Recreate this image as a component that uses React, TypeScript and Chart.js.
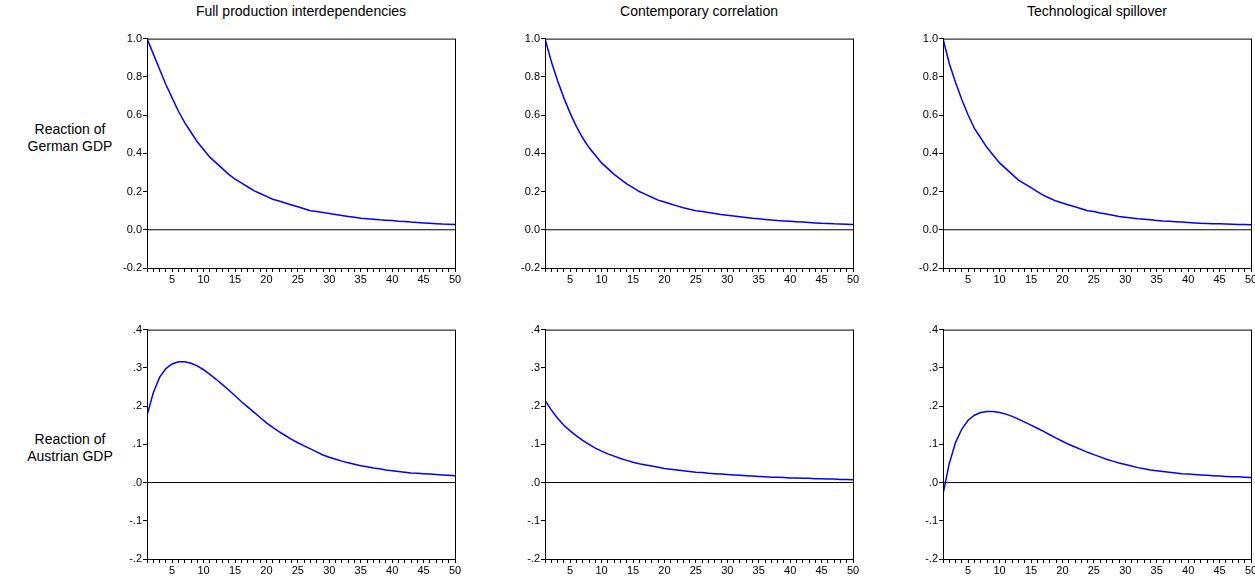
import React, { useEffect, useRef } from 'react'
import { Chart, registerables } from 'chart.js'

Chart.register(...registerables)

const periods = Array.from({ length: 50 }, (_, i) => i + 1)

const titles = ['Full production interdependencies', 'Contemporary correlation', 'Technological spillover']

const germanFull = [1.00, .92, .84, .76, .69, .62, .56, .51, .46, .42, .38, .35, .32, .29, .265, .245, .225, .205, .19, .175, .16, .15, .14, .13, .12, .11, .10, .095, .09, .085, .08, .075, .07, .065, .06, .058, .055, .052, .05, .048, .045, .043, .04, .038, .036, .034, .032, .03, .029, .028]
const germanCorr = [1.0, .88, .78, .69, .61, .54, .48, .43, .39, .35, .32, .29, .265, .24, .22, .2, .185, .17, .155, .145, .135, .125, .115, .107, .1, .095, .09, .085, .08, .076, .072, .068, .064, .06, .057, .054, .051, .048, .046, .044, .042, .04, .038, .036, .034, .033, .031, .03, .029, .028]
const germanTech = [1.0, .87, .77, .68, .60, .53, .48, .43, .39, .35, .32, .29, .26, .24, .22, .2, .18, .165, .15, .14, .13, .12, .11, .1, .095, .088, .082, .076, .07, .066, .062, .058, .055, .052, .049, .046, .044, .042, .04, .038, .036, .034, .033, .032, .031, .03, .029, .028, .027, .026]

const austrianFull = [.175, .235, .275, .298, .31, .316, .316, .312, .305, .295, .283, .27, .256, .242, .227, .212, .198, .184, .17, .156, .144, .133, .123, .113, .104, .096, .088, .08, .072, .066, .061, .056, .052, .048, .044, .041, .038, .036, .033, .031, .029, .027, .025, .024, .023, .022, .021, .02, .019, .018]
const austrianCorr = [.215, .19, .168, .15, .135, .122, .11, .1, .09, .082, .075, .069, .063, .058, .053, .049, .046, .043, .04, .037, .035, .033, .031, .029, .027, .026, .024, .023, .022, .021, .02, .019, .018, .017, .016, .015, .014, .014, .013, .012, .012, .011, .011, .01, .01, .009, .009, .008, .008, .007]
const austrianTech = [-.03, .05, .105, .14, .163, .176, .183, .186, .186, .183, .179, .173, .166, .158, .15, .142, .134, .125, .116, .108, .1, .093, .086, .079, .073, .067, .061, .056, .051, .047, .043, .039, .036, .033, .031, .029, .027, .025, .023, .022, .021, .02, .019, .018, .017, .016, .015, .015, .014, .013]

const topTicks = ['-0.2', '0.0', '0.2', '0.4', '0.6', '0.8', '1.0']
const bottomTicks = ['-.2', '-.1', '.0', '.1', '.2', '.3', '.4']

const FONT = 'Liberation Sans, Arial, sans-serif'

const boxPlugin = {
  id: 'box',
  afterDraw(chart: any) {
    const { ctx, chartArea: a } = chart
    ctx.save()
    ctx.strokeStyle = '#000'
    ctx.lineWidth = 1
    ctx.strokeRect(a.left + 0.5, a.top + 0.5, a.right - a.left, a.bottom - a.top)
    ctx.restore()
  },
}

interface PanelProps {
  values: number[]
  min: number
  max: number
  step: number
  labels: string[]
  left: number
  top: number
}

const Panel = ({ values, min, max, step, labels, left, top }: PanelProps) => {
  const ref = useRef<HTMLCanvasElement>(null)
  useEffect(() => {
    const ctx = ref.current?.getContext('2d')
    if (!ctx) return
    const chart = new Chart(ctx, {
      type: 'line',
      data: {
        labels: periods,
        datasets: [
          { data: periods.map((p, i) => ({ x: p, y: values[i] })), borderColor: '#0000ff', borderWidth: 1.5, pointRadius: 0, tension: 0 },
          { data: [{ x: 1, y: 0 }, { x: 50, y: 0 }], borderColor: '#000', borderWidth: 1, pointRadius: 0 },
        ],
      },
      options: {
        animation: false,
        responsive: false,
        layout: { padding: { top: 5, right: 8 } },
        plugins: { legend: { display: false }, tooltip: { enabled: false } },
        scales: {
          x: {
            type: 'linear', min: 1, max: 50,
            afterFit: (axis: any) => { axis.height = 25 },
            grid: { drawOnChartArea: false, tickLength: 4, color: '#000' },
            border: { color: '#000' },
            ticks: {
              stepSize: 1, autoSkip: false, maxRotation: 0, color: '#000', padding: 1,
              font: { family: FONT, size: 11 },
              callback: (v: any) => (Number(v) % 5 === 0 ? String(v) : ''),
            },
          },
          y: {
            min, max,
            afterFit: (axis: any) => { axis.width = 37 },
            grid: { drawOnChartArea: false, tickLength: 4, color: '#000' },
            border: { color: '#000' },
            ticks: {
              stepSize: step, color: '#000', padding: 1,
              font: { family: FONT, size: 11 },
              callback: (_v: any, i: number) => labels[i],
            },
          },
        },
      },
      plugins: [boxPlugin],
    })
    return () => chart.destroy()
  }, [])
  return <canvas ref={ref} width={353} height={262} style={{ position: 'absolute', left, top }} />
}

const cols = [147, 545, 943]

export default function App() {
  useEffect(() => { document.body.style.margin = '0' }, [])
  const text: React.CSSProperties = { position: 'absolute', fontFamily: FONT, fontSize: 14, color: '#000' }
  return (
    <div style={{ position: 'relative', width: 1255, height: 582, background: '#fff' }}>
      {titles.map((t, i) => (
        <div key={t} style={{ ...text, left: cols[i], width: 308, top: 3, textAlign: 'center' }}>{t}</div>
      ))}
      <div style={{ ...text, left: 15, width: 110, top: 121, textAlign: 'center', lineHeight: '17px' }}>Reaction of<br />German GDP</div>
      <div style={{ ...text, left: 15, width: 110, top: 431, textAlign: 'center', lineHeight: '17px' }}>Reaction of<br />Austrian GDP</div>
      <Panel values={germanFull} min={-0.2} max={1.0} step={0.2} labels={topTicks} left={cols[0] - 37} top={31} />
      <Panel values={germanCorr} min={-0.2} max={1.0} step={0.2} labels={topTicks} left={cols[1] - 37} top={31} />
      <Panel values={germanTech} min={-0.2} max={1.0} step={0.2} labels={topTicks} left={cols[2] - 37} top={31} />
      <Panel values={austrianFull} min={-0.2} max={0.4} step={0.1} labels={bottomTicks} left={cols[0] - 37} top={322} />
      <Panel values={austrianCorr} min={-0.2} max={0.4} step={0.1} labels={bottomTicks} left={cols[1] - 37} top={322} />
      <Panel values={austrianTech} min={-0.2} max={0.4} step={0.1} labels={bottomTicks} left={cols[2] - 37} top={322} />
    </div>
  )
}
